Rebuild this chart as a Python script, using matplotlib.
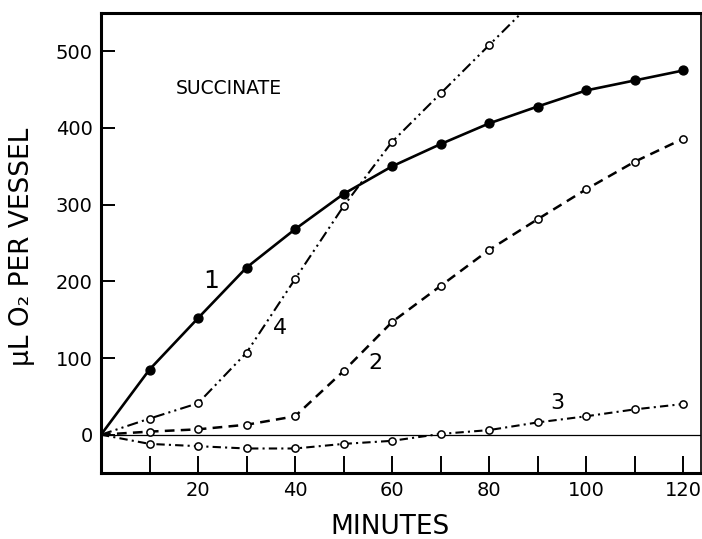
import matplotlib
matplotlib.use('Agg')
import matplotlib.pyplot as plt

# ---- data ----
minutes = [0, 10, 20, 30, 40, 50, 60, 70, 80, 90, 100, 110, 120]
curve1 = [0, 85, 152, 218, 268, 314, 350, 379, 406, 428, 449, 462, 475]
curve2 = [0, 4, 7, 13, 24, 83, 147, 194, 241, 281, 320, 356, 386]
curve3 = [0, -12, -15, -18, -18, -12, -8, 1, 6, 16, 24, 33, 40]
minutes4 = [0, 10, 20, 30, 40, 50, 60, 70, 80, 90]
curve4 = [0, 21, 41, 107, 203, 298, 382, 445, 508, 571]

xticks = [20, 40, 60, 80, 100, 120]
xminor = [10, 30, 50, 70, 90, 110]
yticks = [0, 100, 200, 300, 400, 500]

plt.rcParams['font.family'] = ['DejaVu Sans']
plt.rcParams['lines.scale_dashes'] = False

fig = plt.figure(figsize=(7.02, 5.39), dpi=100)
ax = fig.add_axes([0.1439, 0.1224, 0.998 - 0.1439, 0.9759 - 0.1224])

ax.axhline(0, color='black', lw=0.9, zorder=1)

ax.plot(minutes, curve1, color='black', lw=1.9, marker='o', ms=6.4,
        mfc='black', mec='black', markevery=slice(1, None), zorder=4)
ax.plot(minutes, curve2, color='black', lw=1.8, ls=(0, (7, 4.5)),
        marker='o', ms=5.2, mfc='white', mec='black', mew=1.1,
        markevery=slice(1, None), zorder=3)
ax.plot(minutes, curve3, color='black', lw=1.5, ls=(0, (6, 3, 1.5, 3)),
        marker='o', ms=5.2, mfc='white', mec='black', mew=1.1,
        markevery=slice(1, None), zorder=3)
ax.plot(minutes4, curve4, color='black', lw=1.5,
        ls=(0, (8, 3, 1.5, 3, 1.5, 3)),
        marker='o', ms=5.2, mfc='white', mec='black', mew=1.1,
        markevery=slice(1, None), zorder=3)

ax.set_xlim(0, 123.6)
ax.set_ylim(-50, 550)

ax.set_xticks(xticks)
ax.set_xticks(xminor, minor=True)
ax.set_yticks(yticks)
ax.tick_params(axis='x', which='both', direction='in', length=12, width=1.4,
               labelsize=14, pad=6)
ax.tick_params(axis='y', which='major', direction='in', length=10, width=1.4,
               labelsize=14, pad=6)
ax.set_xticklabels([str(v) for v in xticks])
ax.set_yticklabels([str(v) for v in yticks])

for side in ['left', 'bottom', 'top']:
    ax.spines[side].set_linewidth(2.2)
ax.spines['right'].set_linewidth(1.2)

ax.text(26.4, 451, 'SUCCINATE', fontsize=13.5, ha='center', va='center')
ax.text(22.8, 200, '1', fontsize=18, ha='center', va='center')
ax.text(36.9, 139, '4', fontsize=16, ha='center', va='center')
ax.text(56.5, 93, '2', fontsize=16, ha='center', va='center')
ax.text(94.0, 41, '3', fontsize=16, ha='center', va='center')

fig.text(390 / 702, 1 - 527 / 539, 'MINUTES', fontsize=19,
         ha='center', va='center')
fig.text(22 / 702, 1 - 247 / 539, 'μL O₂ PER VESSEL', fontsize=19,
         rotation=90, ha='center', va='center')

fig.savefig('out.png', dpi=100)
